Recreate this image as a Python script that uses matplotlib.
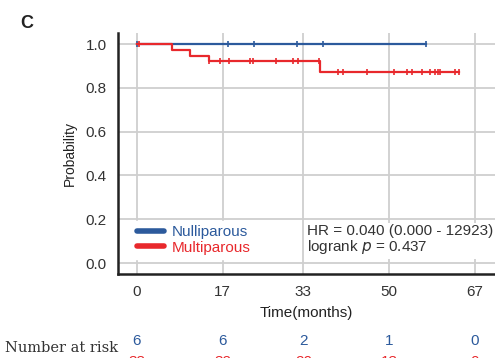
import matplotlib
matplotlib.use("Agg")
import matplotlib.pyplot as plt
import numpy as np

plt.rcParams['font.family'] = ['Liberation Sans', 'DejaVu Sans']

# Kaplan-Meier step data (months, survival probability)
null_t = [0, 57.3]
null_s = [1.0, 1.0]
null_cens = [0.0, 18.0, 23.2, 31.7, 36.9, 57.3]

multi_t = [0, 6.9, 10.6, 14.2, 36.3, 63.8]
multi_s = [1.0, 0.974, 0.947, 0.921, 0.872, 0.872]
multi_cens_t = [0.4, 14.3, 16.5, 18.3, 22.4, 23.1, 27.6, 30.9, 31.9, 36.1,
                39.9, 40.8, 45.6, 50.9, 53.5, 54.6, 56.5, 58.1, 59.1, 59.6,
                60.1, 63.1, 63.8]

ticks_x = [0, 17, 33, 50, 67]
risk_null = [6, 6, 2, 1, 0]
risk_multi = [38, 32, 20, 13, 0]

blue = '#2c5a9c'
red = '#e8282c'


def surv_at(times, surv, t):
    idx = np.searchsorted(times, t, side='right') - 1
    return surv[idx]


fig = plt.figure(figsize=(4.95, 3.58), dpi=100)
ax = fig.add_axes([0.238, 0.2346, 0.762, 0.673])

ax.step(null_t, null_s, where='post', color=blue, lw=1.6, zorder=3)
ax.plot(null_cens, [surv_at(null_t, null_s, t) for t in null_cens], ls='none',
        marker='|', ms=4, mew=1.2, color=blue, zorder=3)
ax.step(multi_t, multi_s, where='post', color=red, lw=1.6, zorder=3)
ax.plot(multi_cens_t, [surv_at(multi_t, multi_s, t) for t in multi_cens_t], ls='none',
        marker='|', ms=4, mew=1.2, color=red, zorder=3)

ax.set_xlim(-3.8, 71)
ax.set_ylim(-0.05, 1.05)
ax.set_xticks(ticks_x)
ax.set_yticks([0.0, 0.2, 0.4, 0.6, 0.8, 1.0])
ax.set_yticklabels(['0.0', '0.2', '0.4', '0.6', '0.8', '1.0'])
ax.tick_params(length=0, labelsize=11, colors='#333333', pad=8)
ax.grid(True, color='#cfcfcf', lw=1.3)
ax.set_axisbelow(True)
for s in ['top', 'right']:
    ax.spines[s].set_visible(False)
for s in ['left', 'bottom']:
    ax.spines[s].set_linewidth(1.8)
    ax.spines[s].set_color('#222222')

ax.set_xlabel('Time(months)', fontsize=11, color='#222222', labelpad=5)
ax.set_ylabel('Probability', fontsize=10, color='#222222', labelpad=6)

h1, = ax.plot([], [], color=blue, lw=4, solid_capstyle='round')
h2, = ax.plot([], [], color=red, lw=4, solid_capstyle='round')
leg = ax.legend([h1, h2], ['Nulliparous', 'Multiparous'], loc='center left',
                bbox_to_anchor=(0.04, 0.141), fontsize=11, frameon=True,
                framealpha=1, edgecolor='white', fancybox=False,
                handlelength=1.75, handletextpad=0.5, labelspacing=0.1,
                borderaxespad=0, borderpad=0.3)
for txt, c in zip(leg.get_texts(), [blue, red]):
    txt.set_color(c)

ax.text(33.7, 0.105, 'HR = 0.040 (0.000 - 12923)\nlogrank $p$ = 0.437',
        fontsize=11, color='#333333', va='center', ha='left', linespacing=1.05,
        bbox=dict(facecolor='white', edgecolor='none', pad=2), zorder=4)

fig.text(0.04, 0.934, 'C', fontsize=13, fontweight='bold', color='#222222',
         va='center')

# Number at risk table
fig.text(0.01, 0.027, 'Number at risk', family='DejaVu Serif', fontsize=10.5,
         color='#333333', va='center')
for x, n1, n2 in zip(ticks_x, risk_null, risk_multi):
    ax.text(x, -0.355, str(n1), color=blue, fontsize=11, ha='center', va='center')
    ax.text(x, -0.45, str(n2), color=red, fontsize=11, ha='center', va='center')

fig.savefig('out.png', dpi=100)
